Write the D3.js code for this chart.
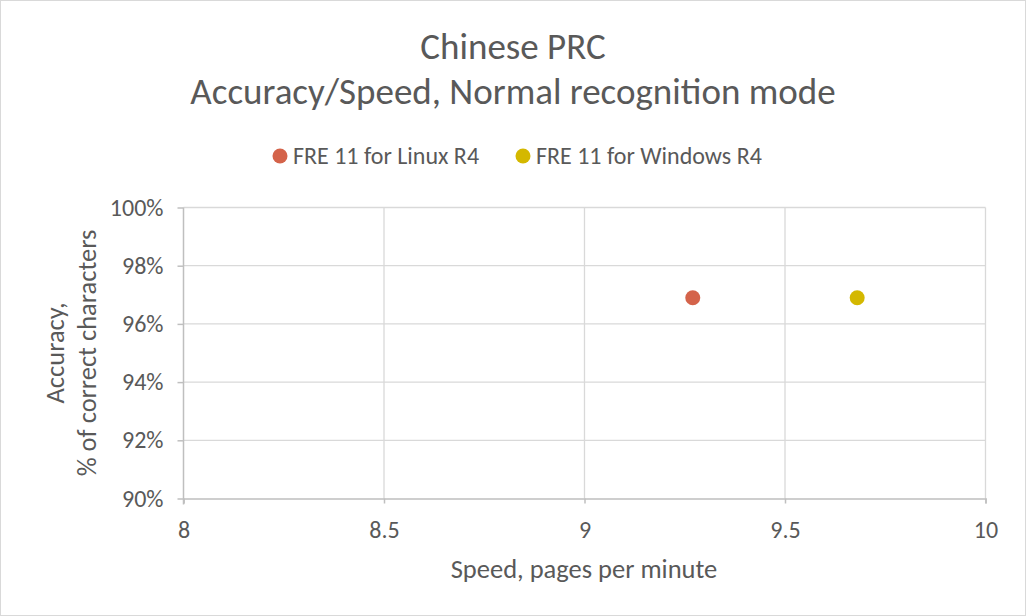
<!DOCTYPE html>
<html><head><meta charset="utf-8">
<script src="https://cdn.jsdelivr.net/npm/d3@7"></script>
<style>
html,body{margin:0;padding:0;background:#fff;}
svg{display:block;font-family:Carlito,"Liberation Sans Narrow","Liberation Sans",sans-serif;}
</style></head>
<body>
<svg id="chart" width="1026" height="616"></svg>
<script>
const seriesNames = ["FRE 11 for Linux R4", "FRE 11 for Windows R4"];
const seriesColors = ["#D4634A", "#D4B800"];
const speedValues = [9.27, 9.68];
const accuracyValues = [0.969, 0.969];
const xTicks = [8, 8.5, 9, 9.5, 10];
const yTicks = [0.90, 0.92, 0.94, 0.96, 0.98, 1.00];
const titleLines = ["Chinese PRC", "Accuracy/Speed, Normal recognition mode"];
const xTitle = "Speed, pages per minute";
const yTitleLines = ["Accuracy,", "% of correct characters"];

const FONT = "Carlito,'Liberation Sans Narrow','Liberation Sans',sans-serif";
const svg = d3.select("#chart");
const W = 1026, H = 616;
svg.append("rect").attr("x",0.5).attr("y",0.5).attr("width",W-1).attr("height",H-1)
  .attr("fill","#fff").attr("stroke","#d9d9d9");

const x = d3.scaleLinear().domain([8,10]).range([183.5,985.5]);
const y = d3.scaleLinear().domain([0.90,1.00]).range([498.5,207.5]);
const textColor = "#595959";

// gridlines
svg.append("g").selectAll("line").data(yTicks.filter(d=>d>0.9)).join("line")
  .attr("x1",x(8)).attr("x2",x(10)).attr("y1",d=>y(d)).attr("y2",d=>y(d))
  .attr("stroke","#d9d9d9").attr("stroke-width",1.3);
svg.append("g").selectAll("line").data(xTicks.filter(d=>d>8)).join("line")
  .attr("x1",d=>x(d)).attr("x2",d=>x(d)).attr("y1",y(0.9)).attr("y2",y(1.0))
  .attr("stroke","#d9d9d9").attr("stroke-width",1.3);

// axes
const xAxis = d3.axisBottom(x).tickValues(xTicks).tickSize(5).tickPadding(17)
  .tickFormat(d=>d3.format("")(d));
const gx = svg.append("g").attr("transform",`translate(0,${y(0.9)})`).call(xAxis);
const yAxis = d3.axisLeft(y).tickValues(yTicks).tickSize(6).tickPadding(14)
  .tickFormat(d3.format(".0%"));
const gy = svg.append("g").attr("transform",`translate(${x(8)},0)`).call(yAxis);
[gx,gy].forEach(g=>{
  g.attr("font-family",FONT).attr("font-size",24);
  g.select(".domain").attr("stroke","#bfbfbf").attr("stroke-width",1.5);
  g.selectAll(".tick line").attr("stroke","#bfbfbf").attr("stroke-width",1.5);
  g.selectAll(".tick text").attr("fill",textColor).attr("font-size","24px");
});
gy.select(".domain").attr("d",`M0,${y(1.0)}V${y(0.9)+6}`);

// points
svg.append("g").selectAll("circle").data(speedValues).join("circle")
  .attr("cx",d=>x(d)).attr("cy",(d,i)=>y(accuracyValues[i])).attr("r",7.5)
  .attr("fill",(d,i)=>seriesColors[i]);

// title
svg.append("text").attr("x",513).attr("y",59).attr("text-anchor","middle")
  .attr("font-size","37px").attr("fill",textColor).text(titleLines[0]);
svg.append("text").attr("x",513).attr("y",104).attr("text-anchor","middle")
  .attr("font-size","37px").attr("fill",textColor).text(titleLines[1]);

// legend
const legendX = [280, 523];
const lg = svg.append("g");
seriesNames.forEach((n,i)=>{
  lg.append("circle").attr("cx",legendX[i]).attr("cy",156).attr("r",7.5).attr("fill",seriesColors[i]);
  lg.append("text").attr("x",legendX[i]+13).attr("y",164).attr("font-size","24px")
    .attr("fill",textColor).text(n);
});

// axis titles
svg.append("text").attr("x",584).attr("y",578).attr("text-anchor","middle")
  .attr("font-size","26.5px").attr("fill",textColor).text(xTitle);
const yt = svg.append("text").attr("transform",`translate(0,${y(0.95)}) rotate(-90)`)
  .attr("text-anchor","middle").attr("font-size","26.5px").attr("fill",textColor);
yt.append("tspan").attr("x",0).attr("y",64).text(yTitleLines[0]);
yt.append("tspan").attr("x",0).attr("y",96).text(yTitleLines[1]);
</script>
</body></html>
